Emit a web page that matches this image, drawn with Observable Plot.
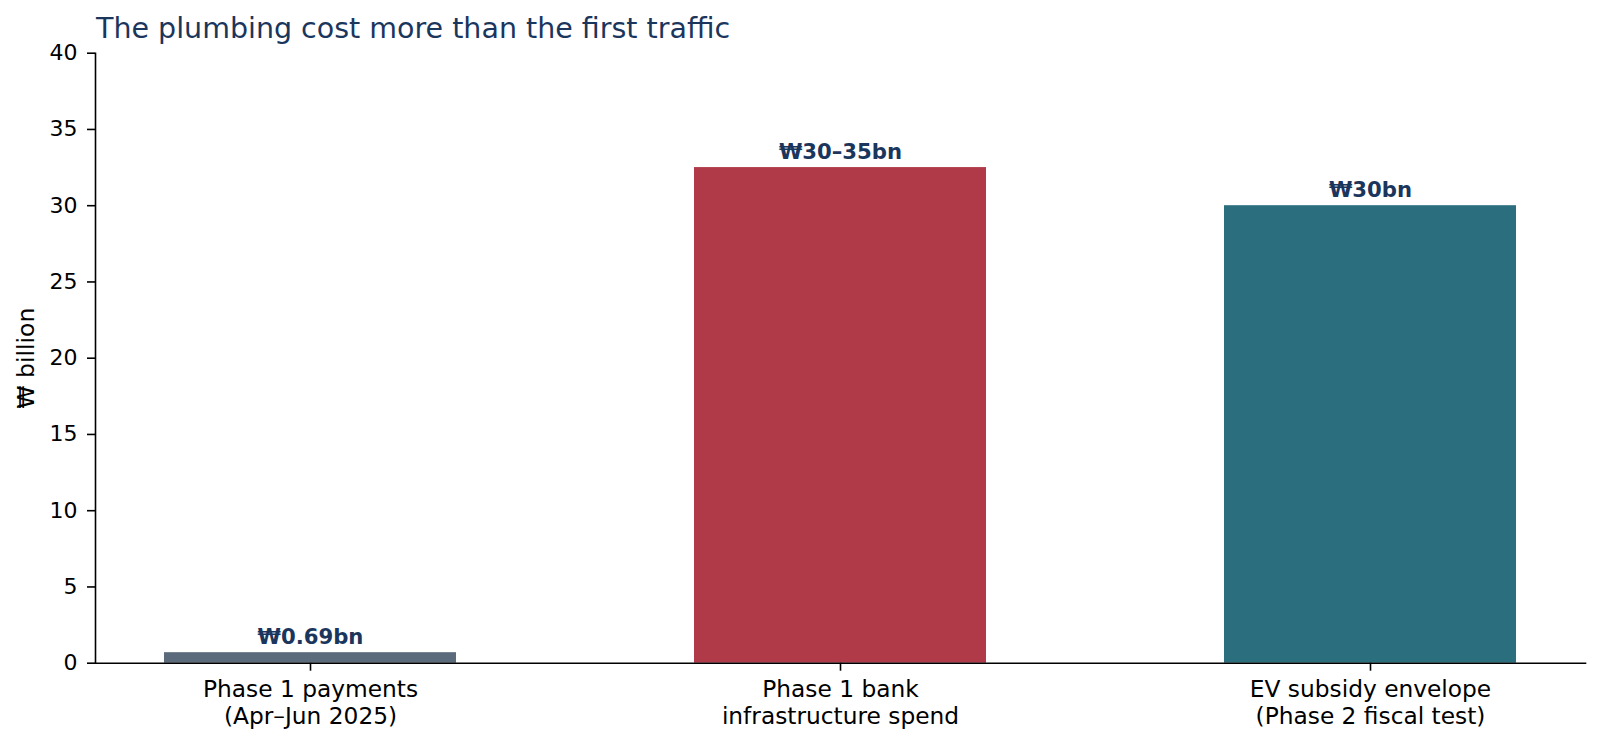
<!DOCTYPE html>
<html><head><meta charset="utf-8">
<script src="https://cdn.jsdelivr.net/npm/d3@7"></script>
<script src="https://cdn.jsdelivr.net/npm/@observablehq/plot@0.6"></script>
<style>
body{margin:0;background:#fff;}
#title{height:40px;box-sizing:border-box;padding-top:15px;padding-left:96px;font-family:"DejaVu Sans";font-size:28.5px;line-height:1;color:#1b365d;white-space:nowrap;}
</style></head><body>
<div id="title">The plumbing cost more than the first traffic</div>
<div id="chart"></div>
<script>
const categories = ["Phase 1 payments\n(Apr–Jun 2025)", "Phase 1 bank\ninfrastructure spend", "EV subsidy envelope\n(Phase 2 fiscal test)"];
const values = [0.69, 32.5, 30];
const valueLabels = ["₩0.69bn", "₩30–35bn", "₩30bn"];
const barColors = ["#5b6b7c", "#b03a48", "#2b6e7e"];
const yTicks = [0, 5, 10, 15, 20, 25, 30, 35, 40];
const yLabel = "₩ billion";

const data = categories.map((c, i) => ({category: c, value: values[i], label: valueLabels[i]}));

const plot = Plot.plot({
  width: 1600, height: 705,
  marginTop: 12.7, marginBottom: 82.3, marginLeft: 95, marginRight: 15,
  style: {fontFamily: "DejaVu Sans", fontSize: "22px", color: "#000", background: "#fff", overflow: "visible"},
  x: {domain: categories, paddingInner: 0.45, paddingOuter: 0.129, align: 0.5, label: null},
  y: {domain: [0, 40], label: null},
  color: {domain: categories, range: barColors},
  marks: [
    Plot.barY(data, {x: "category", y: "value", fill: "category"}),
    Plot.axisX({tickSize: 8, tickPadding: 7, fontSize: 23.3, lineHeight: 1.14, strokeWidth: 1.6, label: null}),
    Plot.axisY({ticks: yTicks, tickSize: 8, tickPadding: 10, fontSize: 22, strokeWidth: 1.6, label: null}),
    Plot.frame({anchor: "left", strokeWidth: 1.6}),
    Plot.frame({anchor: "bottom", strokeWidth: 1.6}),
    Plot.text(data, {x: "category", y: "value", text: "label", lineAnchor: "bottom", dy: -9, fontWeight: "bold", fontSize: 21.2, fill: "#1b365d"}),
    Plot.text([yLabel], {frameAnchor: "left", text: d => d, rotate: -90, dx: -62, textAnchor: "middle", lineAnchor: "bottom", fontSize: 23.5, fill: "#000"})
  ]
});
document.getElementById("chart").appendChild(plot);
</script>
</body></html>
